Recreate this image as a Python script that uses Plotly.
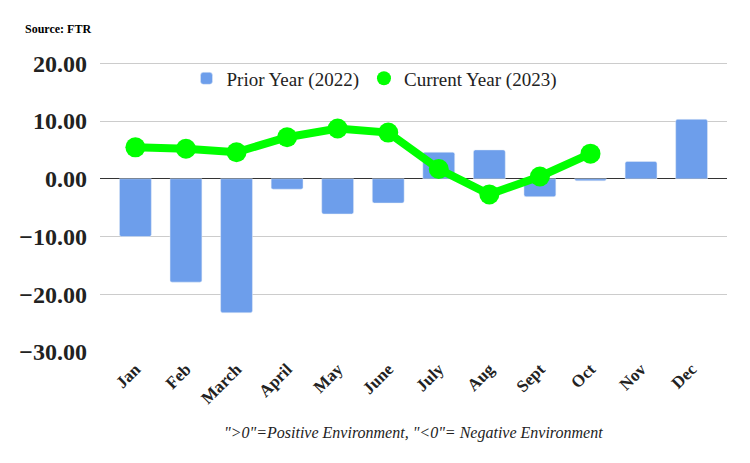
import plotly.graph_objects as go

# Meses e valores
meses = ["Jan", "Feb", "March", "April", "May", "June",
         "July", "Aug", "Sept", "Oct", "Nov", "Dec"]
ano_anterior = [-10.0, -17.9, -23.2, -1.8, -6.1, -4.2,
                4.6, 5.0, -3.1, -0.35, 3.0, 10.3]
ano_atual = [5.45, 5.2, 4.6, 7.2, 8.7, 8.0,
             1.7, -2.7, 0.4, 4.35]

fonte = "Liberation Serif, Times New Roman, serif"

fig = go.Figure()

fig.add_trace(go.Bar(
    x=meses, y=ano_anterior, name="Prior Year (2022)",
    marker=dict(color="#6d9eeb", cornerradius=2),
    width=0.63,
))

# linha do ano atual (legenda separada para mostrar só o círculo)
fig.add_trace(go.Scatter(
    x=meses[:len(ano_atual)], y=ano_atual, mode="lines+markers",
    line=dict(color="#00ff00", width=8),
    marker=dict(color="#00ff00", size=20),
    showlegend=False,
))
fig.add_trace(go.Scatter(
    x=[None], y=[None], mode="markers", name="Current Year (2023)",
    marker=dict(color="#00ff00", size=14),
))

# a página tem margem de 8px no body, por isso as margens estão compensadas
fig.update_layout(
    width=750, height=463,
    margin=dict(l=92, r=31, t=53, b=119, autoexpand=False),
    plot_bgcolor="white", paper_bgcolor="white",
    font=dict(family=fonte, color="#222222"),
    bargap=0.37,
    legend=dict(
        orientation="h", x=0.437, xanchor="center", y=0.94, yanchor="middle",
        font=dict(size=19, color="#222222"), bgcolor="rgba(0,0,0,0)",
    ),
    xaxis=dict(
        range=[-0.7, 11.7], tickangle=-45, showgrid=False, automargin=False,
        tickfont=dict(size=17, family=fonte, weight="bold", color="#222222"),
        ticklabelstandoff=3,
    ),
    yaxis=dict(
        range=[-30, 20.4], tickvals=[-30, -20, -10, 0, 10, 20], tickformat=".2f",
        gridcolor="#cccccc", gridwidth=1, automargin=False,
        zeroline=True, zerolinecolor="#333333", zerolinewidth=1,
        tickfont=dict(size=24, family=fonte, weight="bold", color="#222222"),
        ticklabelstandoff=12,
    ),
    annotations=[
        dict(text="<b>Source: FTR</b>", xref="paper", yref="paper",
             x=-0.123, y=1.11, xanchor="left", yanchor="middle",
             showarrow=False, font=dict(size=12, color="#000000")),
        dict(text='<i>"&gt;0"=Positive Environment, "&lt;0"= Negative Environment</i>',
             xref="paper", yref="paper", x=0.5, y=-0.277,
             xanchor="center", yanchor="middle", showarrow=False,
             font=dict(size=16, color="#222222")),
    ],
)

fig.write_html("out.html")
